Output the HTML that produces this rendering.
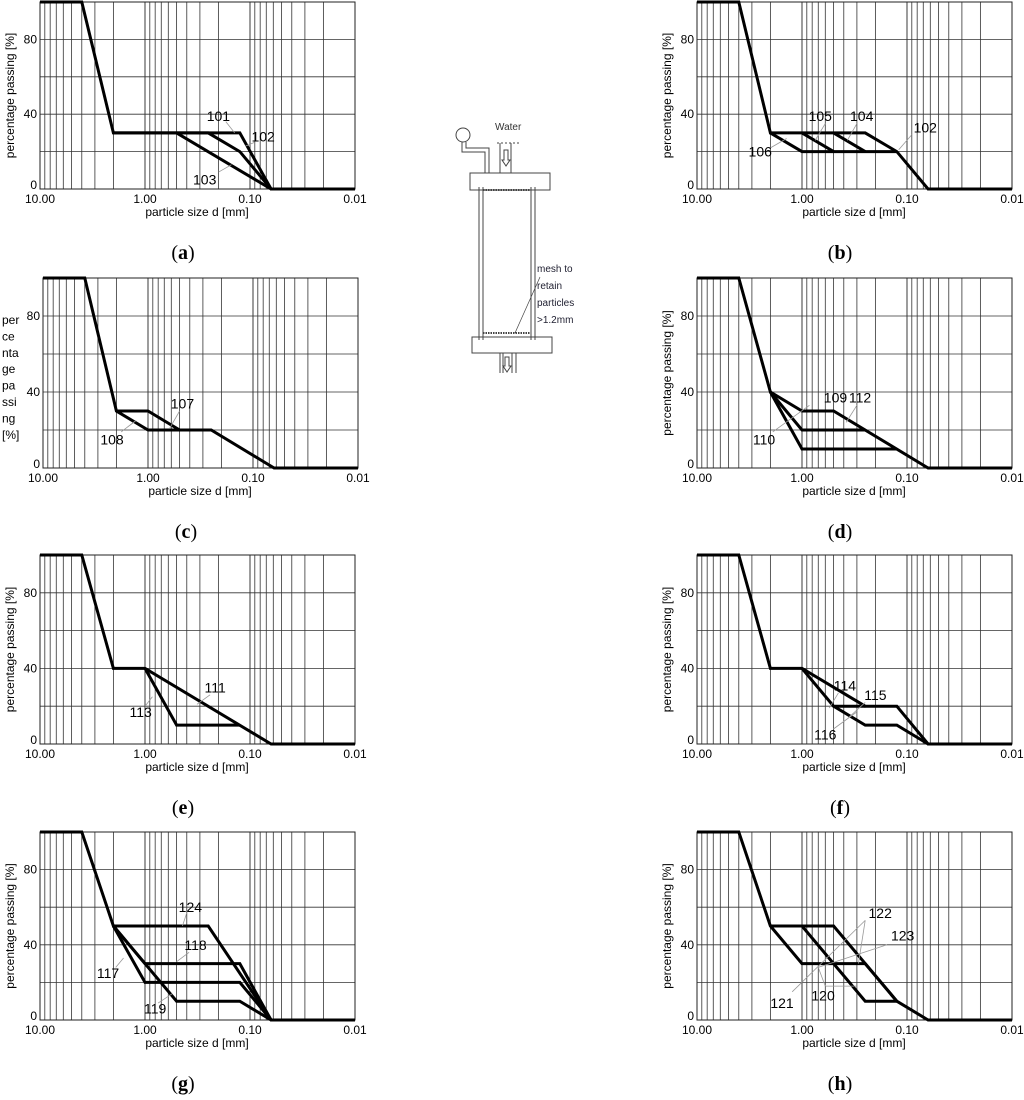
<!DOCTYPE html>
<html><head><meta charset="utf-8"><style>
body{margin:0;background:#fff;}
svg{display:block;font-family:"Liberation Sans",sans-serif;}
</style></head><body>
<svg id="fig" width="1024" height="1100" viewBox="0 0 1024 1100" xmlns="http://www.w3.org/2000/svg">
<g id="diagram" fill="none" stroke="#444" stroke-width="1">
  <circle cx="463" cy="135" r="7"/>
  <path d="M462 142 V152 H485 V173 M466 142 V148 H489 V173"/>
  <text x="495" y="130" fill="#333" stroke="none" font-size="10">Water</text>
  <path d="M500 143 V173 M511 143 V173"/>
  <path d="M497 143 H519" stroke-dasharray="2 2"/>
  <path d="M504 150 V160 H502 L506 166 L510 160 H508 V150 Z"/>
  <rect x="470" y="173" width="80" height="17"/>
  <path d="M479 187 V340 M483 187 V340 M531 187 V340 M535 187 V340"/>
  <path d="M483 190 H531 M483 333 H531" stroke-dasharray="1.5 1" stroke-width="2"/>
  <rect x="472" y="337" width="80" height="16"/>
  <path d="M500 353 V373 M503 353 V373 M512 353 V373 M516 353 V373"/>
  <path d="M505 357 V366 H503 L507 372 L511 366 H509 V357 Z"/>
  <path d="M540 277 L515 333" stroke-width="0.7"/>
  <g fill="#223" stroke="none" font-size="10">
    <text x="537" y="272">mesh to</text><text x="537" y="289">retain</text>
    <text x="537" y="306">particles</text><text x="537" y="323">&gt;1.2mm</text>
  </g>
</g>
</svg>
<script>
// ---- data (d in mm, percentage passing) ----
const a101=[[10,100],[4,100],[2,30],[0.125,30],[0.063,0],[0.01,0]];
const a102=[[2,30],[0.25,30],[0.125,20],[0.063,0]];
const a103=[[0.5,30],[0.063,0]];
const b102=[[10,100],[4,100],[2,30],[0.25,30],[0.125,20],[0.063,0],[0.01,0]];
const b104=[[0.5,30],[0.25,20]];
const b105=[[1,30],[0.5,20]];
const b106=[[2,30],[1,20],[0.125,20]];
const c108=[[10,100],[4,100],[2,30],[1,20],[0.25,20],[0.063,0],[0.01,0]];
const c107=[[2,30],[1,30],[0.5,20]];
const d109=[[10,100],[4,100],[2,40],[1,30],[0.5,30],[0.063,0],[0.01,0]];
const d112=[[2,40],[1,20],[0.25,20]];
const d110=[[2,40],[1,10],[0.125,10]];
const e111=[[10,100],[4,100],[2,40],[1,40],[0.063,0],[0.01,0]];
const e113=[[1,40],[0.5,10],[0.125,10]];
const f114=[[10,100],[4,100],[2,40],[1,40],[0.25,20],[0.125,20],[0.063,0],[0.01,0]];
const f115=[[1,40],[0.5,20],[0.25,20]];
const f116=[[0.5,20],[0.25,10],[0.125,10],[0.063,0]];
const g124=[[10,100],[4,100],[2,50],[0.25,50],[0.063,0],[0.01,0]];
const g118=[[2,50],[1,30],[0.125,30],[0.063,0]];
const g117=[[2,50],[1,20],[0.125,20],[0.063,0]];
const g119=[[2,50],[0.5,10],[0.125,10],[0.063,0]];
const h121=[[10,100],[4,100],[2,50],[1,30],[0.25,30],[0.125,10],[0.063,0],[0.01,0]];
const h120=[[2,50],[1,50],[0.25,10],[0.125,10]];
const h122=[[1,50],[0.5,50],[0.125,10]];
const yTicks=[0,40,80];
const xTickLabels=["10.00","1.00","0.10","0.01"];
const xTickValues=[10,1,0.1,0.01];
// labels: [text, d, pct], leaders: [d1,p1,d2,p2]
const panels=[
 {id:"a",x0:40,top:2,bot:189,cap:"a",curves:[a101,a102,a103],
  labels:[["101",0.2,39],["102",0.075,28],["103",0.27,5]],
  leaders:[[0.17,36,0.14,30],[0.09,25,0.11,23],[0.2,9,0.15,13]]},
 {id:"b",x0:697,top:2,bot:189,cap:"b",curves:[b102,b104,b105,b106],
  labels:[["105",0.67,39],["104",0.27,39],["102",0.067,33],["106",2.5,20]],
  leaders:[[0.6,35,0.75,26],[0.3,35,0.37,26],[0.09,29,0.12,21],[2.0,22,1.4,27]]},
 {id:"c",x0:43,top:278,bot:468,cap:"c",curves:[c108,c107],wrap:true,
  labels:[["107",0.47,34],["108",2.2,15]],
  leaders:[[0.5,30,0.62,21],[1.8,19,1.3,25]]},
 {id:"d",x0:697,top:278,bot:468,cap:"d",curves:[d109,d112,d110],
  labels:[["109",0.48,37],["112",0.28,37],["110",2.3,15]],
  leaders:[[1.9,19,0.85,33],[0.3,33,0.38,24]]},
 {id:"e",x0:40,top:555,bot:744,cap:"e",curves:[e111,e113],
  labels:[["111",0.215,30],["113",1.1,17]],
  leaders:[[0.24,26,0.32,21],[1.0,20,0.85,25]]},
 {id:"f",x0:697,top:555,bot:744,cap:"f",curves:[f114,f115,f116],
  labels:[["114",0.39,31],["115",0.2,26],["116",0.6,5]],
  leaders:[[0.45,27,0.55,19],[0.25,22,0.36,14],[0.5,8,0.3,17]]},
 {id:"g",x0:40,top:832,bot:1020,cap:"g",curves:[g124,g118,g117,g119],
  labels:[["124",0.37,60],["118",0.33,40],["117",2.25,25],["119",0.8,6]],
  leaders:[[0.4,57,0.44,50],[0.38,36,0.5,31],[1.9,28,1.6,33],[0.75,9,0.55,14]]},
 {id:"h",x0:697,top:832,bot:1020,cap:"h",curves:[h121,h120,h122],
  labels:[["122",0.18,57],["123",0.11,45],["121",1.55,9],["120",0.63,13]],
  leaders:[[0.25,53,1.24,15],[0.25,53,0.29,30],[0.155,40,0.7,28],[0.7,28,0.6,18],[0.6,18,0.3,18]]}
];
const wrapWords=["per","ce","nta","ge","pa","ssi","ng","[%]"];
const NS="http://www.w3.org/2000/svg";
const svg=document.getElementById('fig');
function mk(tag,attrs,parent){const e=document.createElementNS(NS,tag);for(const k in attrs)e.setAttribute(k,attrs[k]);parent.appendChild(e);return e;}
const W=315,DEC=105;
panels.forEach(P=>{
  const xs=d=>P.x0+(1-Math.log10(d))*DEC;
  const ys=p=>P.bot-p/100*(P.bot-P.top);
  const g=mk('g',{},svg);
  
  
  const grid=mk('g',{stroke:'#333','stroke-width':'0.8'},g);
  
  
  [10,1,0.1].forEach(dec=>{for(let k=1;k<=9;k++){const d=dec*k/10*10/10*(k===1?1:1);}});
  const vals=[];
  [1,0.1,0.01].forEach(dec=>{for(let k=10;k>=1;k--)vals.push(dec*k);});
  vals.push(0.01);
  vals.forEach(d=>{const x=xs(d);mk('line',{x1:x,x2:x,y1:P.top,y2:P.bot},grid);});
  for(let p=0;p<=100;p+=20){const y=ys(p);mk('line',{x1:P.x0,x2:P.x0+W,y1:y,y2:y},grid);}
  const fr=mk('rect',{x:P.x0,y:P.top,width:W,height:P.bot-P.top,fill:'none',stroke:'#222','stroke-width':'1'},g);
  
  
  yTicks.forEach(t=>{const e=mk('text',{x:P.x0-3,y:ys(t)+(t===0?0:4),'text-anchor':'end','font-size':'12'},g);e.textContent=t;
    
    });
  xTickValues.forEach((v,i)=>{const e=mk('text',{x:xs(v),y:P.bot+14,'text-anchor':'middle','font-size':'12'},g);e.textContent=xTickLabels[i];
    
    });
  const xt=mk('text',{x:P.x0+157,y:P.bot+27,'text-anchor':'middle','font-size':'12'},g);xt.textContent='particle size d [mm]';
  
  
  if(P.wrap){
    wrapWords.forEach((w,i)=>{const e=mk('text',{x:2,y:324+i*16.4,'font-size':'12'},g);e.textContent=w;
      
      });
  } else {
    const cy=(P.top+P.bot)/2, cx=P.x0-26;
    const e=mk('text',{x:cx,y:cy,'text-anchor':'middle','font-size':'12',transform:`rotate(-90 ${cx} ${cy})`},g);e.textContent='percentage passing [%]';
    
    
  }
  P.curves.forEach((c,i)=>{
    const pl=mk('polyline',{points:c.map(q=>xs(q[0])+','+ys(q[1])).join(' '),fill:'none',stroke:'#000','stroke-width':'3','stroke-linejoin':'miter'},g);
    
    
  });
  P.leaders.forEach(l=>{const e=mk('line',{x1:xs(l[0]),y1:ys(l[1]),x2:xs(l[2]),y2:ys(l[3]),stroke:'#999','stroke-width':'0.8'},g);
    
    });
  P.labels.forEach(l=>{const e=mk('text',{x:xs(l[1]),y:ys(l[2])+5,'text-anchor':'middle','font-size':'14'},g);e.textContent=l[0];
    
    });
  const cx=P.x0+143, cyy=P.bot+70;
  const cap=mk('text',{x:cx,y:cyy,'text-anchor':'middle','font-size':'20','font-family':'Liberation Serif, serif'},g);
  cap.innerHTML='(<tspan font-weight="bold">'+P.cap+'</tspan>)';
  
  
});
</script>
</body></html>
